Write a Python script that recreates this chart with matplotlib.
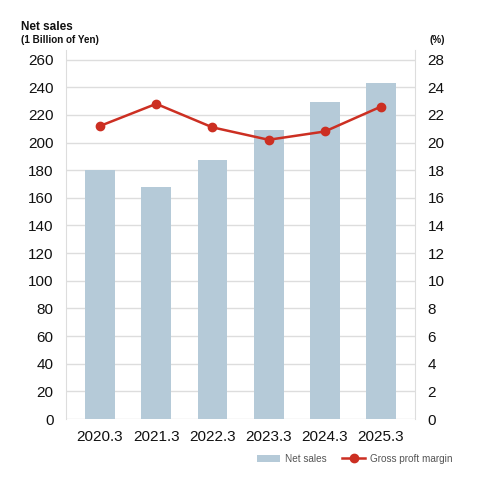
import matplotlib
matplotlib.use("Agg")
import matplotlib.pyplot as plt
from matplotlib.lines import Line2D
from matplotlib.patches import Patch

plt.rcParams['font.family'] = ['Liberation Sans', 'DejaVu Sans']

# Data
years = ['2020.3', '2021.3', '2022.3', '2023.3', '2024.3', '2025.3']
net_sales = [180.5, 168, 187.5, 209, 229.5, 243]
gross_margin = [21.2, 22.8, 21.1, 20.2, 20.8, 22.6]

left_ticks = list(range(0, 261, 20))
right_ticks = list(range(0, 27, 2))
right_labels = ['0', '2', '4', '6', '8', '10', '12', '14', '16', '18', '20', '22', '24', '28']

# Colors
bar_color = '#b5cad8'
line_color = '#cc2f22'
grid_color = '#dddddd'
text_color = '#111111'

fig = plt.figure(figsize=(4.82, 4.80), dpi=100, facecolor='white')
ax = fig.add_axes([0.137, 0.127, 0.724, 0.769])

x = list(range(len(years)))
ax.bar(x, net_sales, width=0.53, color=bar_color, zorder=2)
ax.set_xlim(-0.605, len(years) - 1 + 0.605)
ax.set_ylim(0, 267)
ax.set_yticks(left_ticks)
ax.set_xticks(x)
ax.set_xticklabels(years)
ax.grid(axis='y', color=grid_color, linewidth=1, zorder=0)
ax.tick_params(axis='both', length=0, labelsize=11, colors=text_color)
ax.tick_params(axis='y', pad=9)
ax.tick_params(axis='x', pad=8)
for side in ['top', 'bottom']:
    ax.spines[side].set_visible(False)
for side in ['left', 'right']:
    ax.spines[side].set_color(grid_color)

ax2 = ax.twinx()
ax2.plot(x, gross_margin, color=line_color, linewidth=1.8, marker='o', markersize=6, zorder=3)
ax2.set_ylim(0, 26.7)
ax2.set_yticks(right_ticks)
ax2.set_yticklabels(right_labels)
ax2.tick_params(axis='y', length=0, labelsize=11, colors=text_color, pad=9)
for side in ['top', 'bottom', 'left', 'right']:
    ax2.spines[side].set_visible(False)

# Axis titles
fig.text(21 / 482, 1 - 27 / 480, 'Net sales', fontsize=8.5, fontweight='bold', color=text_color, va='center')
fig.text(21 / 482, 1 - 40 / 480, '(1 Billion of Yen)', fontsize=7.1, fontweight='bold', color=text_color, va='center')
fig.text(429 / 482, 1 - 40 / 480, '(%)', fontsize=7.1, fontweight='bold', color=text_color, va='center')

# Legend
handles = [Patch(facecolor=bar_color, edgecolor='none'),
           Line2D([0], [0], color=line_color, linewidth=1.8, marker='o', markersize=6)]
leg = fig.legend(handles, ['Net sales', 'Gross proft margin'], loc='center right',
                 bbox_to_anchor=(0.957, 0.044), ncol=2, frameon=False, fontsize=7.2,
                 handlelength=2.3, handleheight=0.8, columnspacing=1.6, handletextpad=0.45)
for t in leg.get_texts():
    t.set_color('#555555')

plt.savefig('out.png', dpi=100, facecolor='white')
